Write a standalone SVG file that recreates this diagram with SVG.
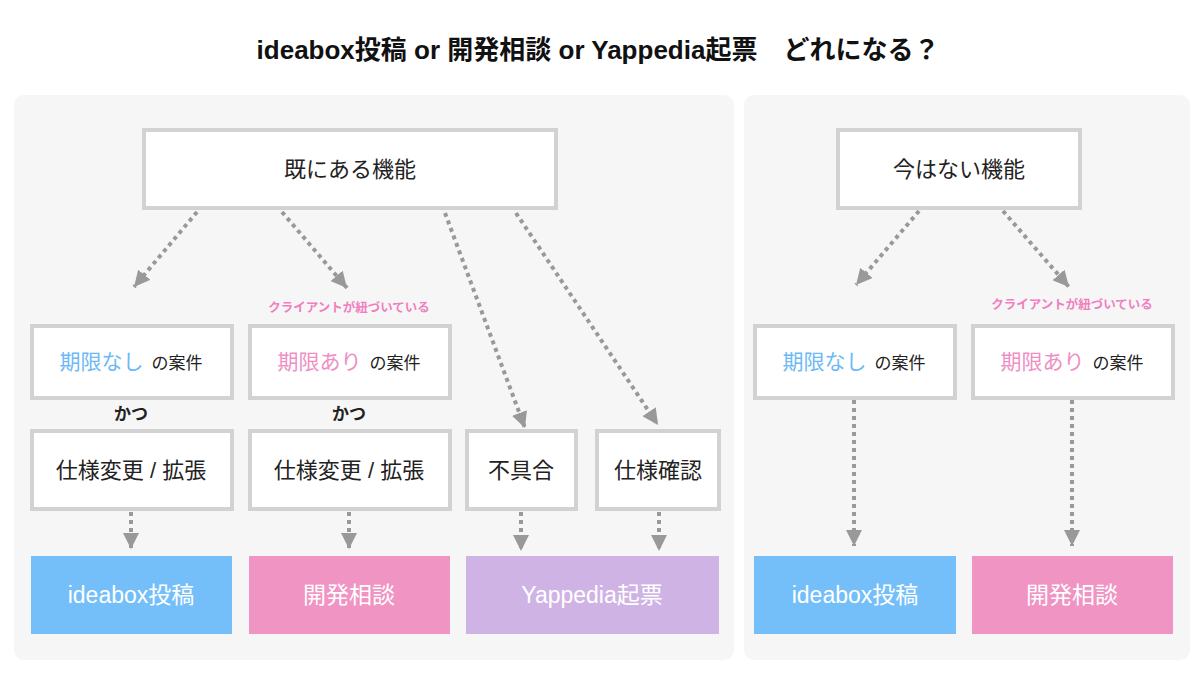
<svg xmlns="http://www.w3.org/2000/svg" width="1200" height="675" viewBox="0 0 1200 675">
<style>
text{font-family:"Liberation Sans","Noto Sans CJK JP",sans-serif;}
.panel{fill:#f6f6f6;}
.box{fill:#fff;stroke:#d2d2d2;stroke-width:4;}
.t{font-size:22px;fill:#222;text-anchor:middle;dominant-baseline:central;}
.s{font-size:17px;fill:#222;}
.blue{fill:#6db9f5;}
.pink{fill:#ef8fc4;}
.big{font-size:21px;}
.note{font-size:12.5px;font-weight:bold;fill:#f07fc0;text-anchor:middle;}
.katsu{font-size:17px;font-weight:bold;fill:#222;text-anchor:middle;}
.wt{font-size:23px;fill:#fff;text-anchor:middle;dominant-baseline:central;}
.c{fill:none;stroke:#999;stroke-width:4;stroke-dasharray:4 4;}
</style>
<defs>
<marker id="ah" markerUnits="userSpaceOnUse" markerWidth="16" markerHeight="16" viewBox="0 0 16 16" refX="16" refY="8" orient="auto">
<path d="M0,0 L16,8 L0,16 Z" fill="#999"/>
</marker>
</defs>
<text x="598" y="59" font-size="26" font-weight="bold" fill="#111" text-anchor="middle">ideabox投稿 or 開発相談 or Yappedia起票　どれになる？</text>
<rect class="panel" x="14" y="95" width="720" height="565" rx="10"/>
<rect class="panel" x="744" y="95" width="446" height="565" rx="10"/>

<g id="connectors">
<path class="c" d="M197,212 L134,287" marker-end="url(#ah)"/>
<path class="c" d="M282,212 L347,288" marker-end="url(#ah)"/>
<path class="c" d="M445,213 L525,428" marker-end="url(#ah)"/>
<path class="c" d="M516,213 L658,425" marker-end="url(#ah)"/>
<path class="c" d="M131,512 L131,549" marker-end="url(#ah)"/>
<path class="c" d="M349,512 L349,549" marker-end="url(#ah)"/>
<path class="c" d="M521,512 L521,551" marker-end="url(#ah)"/>
<path class="c" d="M659,512 L659,551" marker-end="url(#ah)"/>
<path class="c" d="M919,211 L856,285" marker-end="url(#ah)"/>
<path class="c" d="M1003,211 L1069,287" marker-end="url(#ah)"/>
<path class="c" d="M854,400 L854,546" marker-end="url(#ah)"/>
<path class="c" d="M1072,400 L1072,546" marker-end="url(#ah)"/>
</g>

<g id="existing">
<rect class="box" x="144" y="130" width="412" height="78"/>
<text class="t" x="350" y="169">既にある機能</text>
</g>
<g id="nonexisting">
<rect class="box" x="838" y="130" width="242" height="78"/>
<text class="t" x="959" y="169">今はない機能</text>
</g>

<g id="l-nodeadline">
<rect class="box" x="32" y="326" width="200" height="72"/>
<text x="131" y="369" text-anchor="middle"><tspan class="blue big">期限なし</tspan><tspan class="s" dx="8">の案件</tspan></text>
</g>
<g id="l-deadline">
<text class="note" x="349" y="312">クライアントが紐づいている</text>
<rect class="box" x="250" y="326" width="200" height="72"/>
<text x="349" y="369" text-anchor="middle"><tspan class="pink big">期限あり</tspan><tspan class="s" dx="8">の案件</tspan></text>
</g>
<g id="r-nodeadline">
<rect class="box" x="755" y="326" width="200" height="72"/>
<text x="854" y="369" text-anchor="middle"><tspan class="blue big">期限なし</tspan><tspan class="s" dx="8">の案件</tspan></text>
</g>
<g id="r-deadline">
<text class="note" x="1072" y="309">クライアントが紐づいている</text>
<rect class="box" x="973" y="326" width="200" height="72"/>
<text x="1072" y="369" text-anchor="middle"><tspan class="pink big">期限あり</tspan><tspan class="s" dx="8">の案件</tspan></text>
</g>

<text class="katsu" x="131" y="420">かつ</text>
<text class="katsu" x="349" y="420">かつ</text>

<g id="l-change1">
<rect class="box" x="32" y="431" width="200" height="78"/>
<text class="t" x="131" y="470">仕様変更 / 拡張</text>
</g>
<g id="l-change2">
<rect class="box" x="250" y="431" width="200" height="78"/>
<text class="t" x="349" y="470">仕様変更 / 拡張</text>
</g>
<g id="bug">
<rect class="box" x="467" y="431" width="109" height="78"/>
<text class="t" x="521" y="470">不具合</text>
</g>
<g id="spec">
<rect class="box" x="597" y="431" width="122" height="78"/>
<text class="t" x="658" y="470">仕様確認</text>
</g>

<g id="l-ideabox">
<rect x="31" y="556" width="201" height="78" fill="#74bff9"/>
<text class="wt" x="131" y="595">ideabox投稿</text>
</g>
<g id="l-kaihatsu">
<rect x="249" y="556" width="201" height="78" fill="#f094c4"/>
<text class="wt" x="349" y="595">開発相談</text>
</g>
<g id="yappedia">
<rect x="466" y="556" width="253" height="78" fill="#d0b3e5"/>
<text class="wt" x="592" y="595">Yappedia起票</text>
</g>
<g id="r-ideabox">
<rect x="754" y="556" width="202" height="78" fill="#74bff9"/>
<text class="wt" x="855" y="595">ideabox投稿</text>
</g>
<g id="r-kaihatsu">
<rect x="972" y="556" width="201" height="78" fill="#f094c4"/>
<text class="wt" x="1072" y="595">開発相談</text>
</g>
</svg>
